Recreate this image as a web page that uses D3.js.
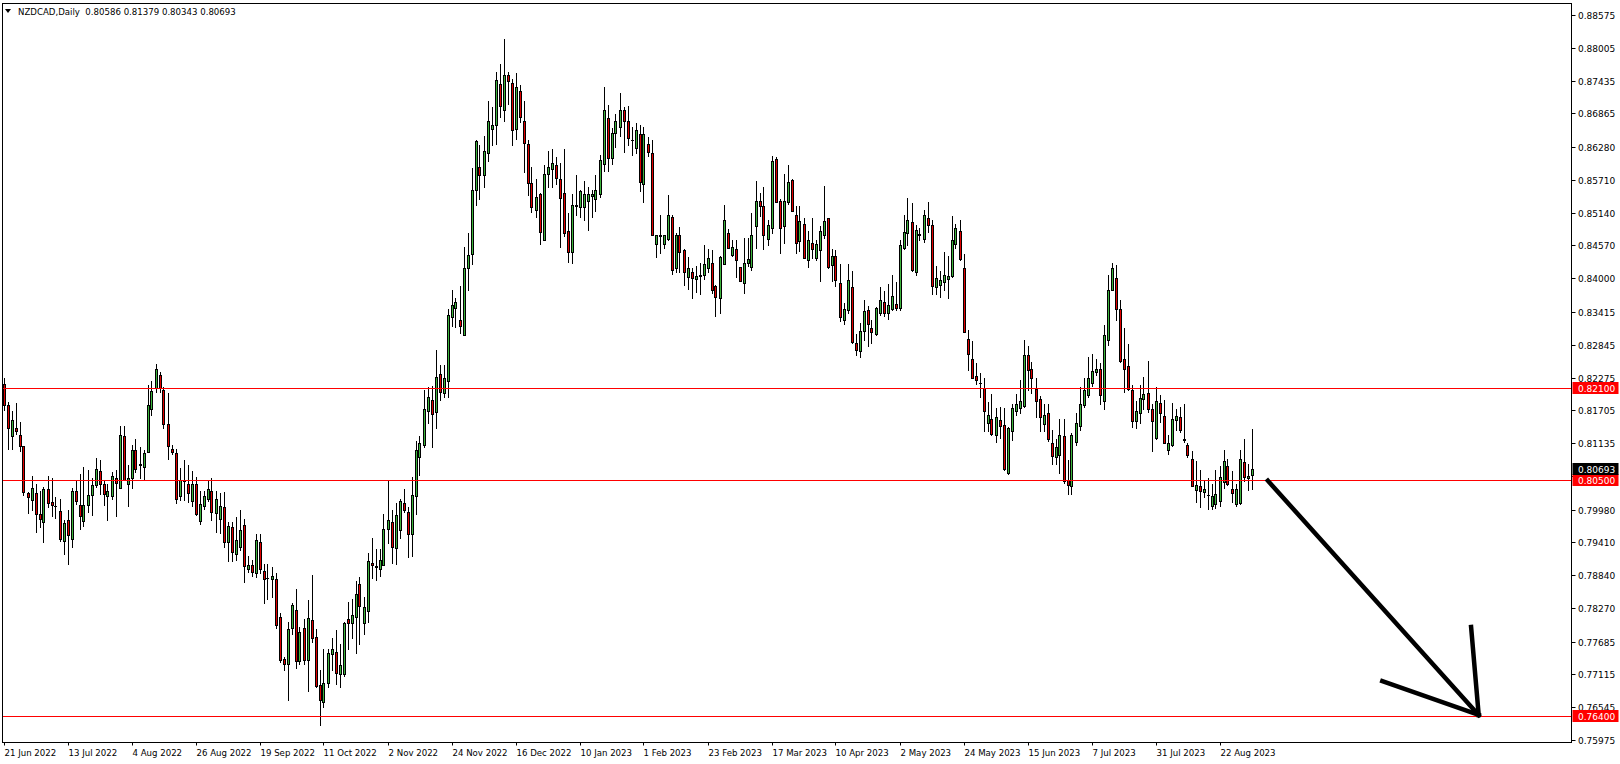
<!DOCTYPE html>
<html><head><meta charset="utf-8">
<script src="https://cdn.jsdelivr.net/npm/d3@7"></script>
<style>html,body{margin:0;padding:0;background:#fff;overflow:hidden}</style>
</head><body>
<svg id="c" width="1620" height="764"></svg>
<script>
const symbolTitle = "NZDCAD,Daily";
const lastOHLC = ["0.80586","0.81379","0.80343","0.80693"];

const opens = [.8217,.8179,.8126,.8139,.8127,.8108,.8026,.8015,.8027,.7990,.7976,.8033,.8011,.8005,.7996,.7943,.7980,.7946,.8031,.8006,
.7978,.8006,.8023,.8040,.8065,.8043,.8022,.8022,.8052,.8036,.8125,.8043,.8053,.8101,.8078,.8072,.8098,.8172,.8210,.8231,
.8205,.8146,.8104,.8097,.8022,.8049,.8043,.8013,.8043,.7978,.8004,.8017,.8031,.7992,.7982,.8003,.7942,.7967,.7921,.7933,
.7971,.7894,.7901,.7888,.7941,.7891,.7879,.7878,.7877,.7811,.7738,.7729,.7792,.7823,.7734,.7793,.7736,.7806,.7776,.7693,
.7664,.7697,.7747,.7750,.7713,.7713,.7807,.7800,.7812,.7869,.7800,.7822,.7905,.7898,.7895,.7902,.7965,.7976,.7932,.7962,
.8010,.7993,.7955,.8021,.8090,.8110,.8170,.8189,.8168,.8234,.8201,.8222,.8333,.8349,.8328,.8302,.8417,.8443,.8554,.8594,
.8580,.8618,.8659,.8667,.8737,.8693,.8753,.8740,.8660,.8726,.8673,.8634,.8565,.8519,.8546,.8467,.8582,.8590,.8596,.8573,
.8549,.8482,.8446,.8526,.8524,.8523,.8534,.8543,.8538,.8547,.8599,.8679,.8609,.8653,.8662,.8693,.8673,.8641,.8627,.8651,
.8564,.8633,.8617,.8459,.8475,.8459,.8469,.8507,.8417,.8475,.8449,.8403,.8410,.8398,.8404,.8405,.8417,.8426,.8386,.8366,
.8425,.8478,.8440,.8450,.8420,.8392,.8426,.8420,.8490,.8534,.8526,.8469,.8488,.8607,.8534,.8490,.8532,.8571,.8510,.8464,
.8494,.8431,.8461,.8436,.8449,.8475,.8504,.8423,.8439,.8391,.8327,.8345,.8384,.8288,.8274,.8309,.8345,.8314,.8303,.8339,
.8358,.8339,.8347,.8356,.8349,.8452,.8478,.8497,.8411,.8477,.8468,.8504,.8492,.8385,.8389,.8393,.8398,.8404,.8459,.8482,
.8417,.8295,.8259,.8230,.8218,.8210,.8149,.8155,.8127,.8153,.8145,.8062,.8135,.8169,.8174,.8178,.8266,.8242,.8207,.8191,
.8147,.8165,.8114,.8089,.8093,.8125,.8050,.8039,.8115,.8143,.8179,.8197,.8218,.8237,.8242,.8187,.8293,.8380,.8400,.8346,
.8260,.8247,.8206,.8152,.8166,.8191,.8201,.8173,.8122,.8184,.8160,.8102,.8111,.8154,.8158,.8121,.8111,.8086,.8032,.8039,
.8028,.8023,.8004,.8007,.8013,.8046,.8074,.8034,.8007,.8010,.8080,.8052,.80586];

const highs = [.8226,.8185,.8169,.8184,.8151,.8108,.8029,.8056,.8043,.8030,.8037,.8057,.8052,.8020,.8017,.7979,.7997,.8035,.8049,.8059,
.8072,.8066,.8052,.8088,.8084,.8050,.8042,.8063,.8066,.8143,.8143,.8075,.8110,.8120,.8107,.8101,.8215,.8222,.8251,.8237,
.8211,.8200,.8110,.8104,.8070,.8084,.8075,.8065,.8055,.8031,.8031,.8048,.8053,.8031,.8026,.8029,.7977,.7977,.7985,.7997,
.7982,.7917,.7910,.7955,.7955,.7904,.7904,.7899,.7887,.7819,.7742,.7803,.7835,.7860,.7794,.7808,.7840,.7884,.7790,.7720,
.7756,.7756,.7774,.7789,.7765,.7803,.7838,.7843,.7873,.7881,.7846,.7923,.7948,.7930,.7930,.7990,.8049,.7997,.8010,.8017,
.8034,.8003,.8055,.8118,.8125,.8206,.8211,.8212,.8276,.8250,.8249,.8347,.8379,.8365,.8386,.8454,.8478,.8592,.8641,.8631,
.8648,.8708,.8698,.8758,.8773,.8816,.8758,.8747,.8756,.8735,.8708,.8640,.8594,.8573,.8548,.8597,.8622,.8624,.8610,.8600,
.8624,.8513,.8547,.8579,.8553,.8569,.8558,.8554,.8579,.8614,.8733,.8701,.8661,.8686,.8722,.8698,.8700,.8663,.8669,.8667,
.8662,.8645,.8640,.8475,.8510,.8476,.8545,.8510,.8478,.8489,.8450,.8437,.8418,.8421,.8427,.8457,.8450,.8449,.8389,.8439,
.8528,.8485,.8466,.8467,.8420,.8470,.8470,.8513,.8569,.8549,.8558,.8502,.8613,.8610,.8537,.8581,.8597,.8573,.8525,.8525,
.8504,.8482,.8505,.8467,.8490,.8560,.8504,.8450,.8449,.8424,.8357,.8425,.8413,.8303,.8323,.8362,.8352,.8327,.8350,.8385,
.8378,.8390,.8405,.8394,.8466,.8510,.8539,.8530,.8492,.8487,.8518,.8533,.8501,.8421,.8413,.8446,.8438,.8508,.8494,.8502,
.8443,.8310,.8291,.8252,.8236,.8226,.8185,.8199,.8174,.8177,.8174,.8141,.8182,.8198,.8224,.8293,.8282,.8255,.8226,.8195,
.8182,.8182,.8136,.8120,.8156,.8156,.8084,.8131,.8165,.8211,.8227,.8263,.8268,.8260,.8252,.8318,.8405,.8426,.8423,.8362,
.8314,.8286,.8214,.8187,.8214,.8229,.8257,.8181,.8211,.8197,.8188,.8127,.8183,.8173,.8176,.8181,.8114,.8099,.8082,.8067,
.8049,.8052,.8043,.8067,.8073,.8101,.8085,.8065,.8043,.8102,.8121,.8078,.81379];

const lows = [.8171,.8104,.8103,.8130,.8100,.8023,.7992,.7998,.7959,.7968,.7941,.8002,.7986,.7983,.7943,.7921,.7904,.7933,.8007,.7965,
.7970,.7994,.7988,.8037,.8025,.8006,.7979,.8016,.7986,.8035,.8049,.8005,.8036,.8063,.8053,.8049,.8098,.8162,.8202,.8202,
.8140,.8086,.8095,.8009,.8014,.8014,.8011,.8005,.7988,.7973,.7999,.8013,.7979,.7959,.7958,.7933,.7908,.7908,.7910,.7927,
.7872,.7890,.7882,.7881,.7888,.7836,.7843,.7846,.7792,.7733,.7720,.7667,.7781,.7723,.7729,.7730,.7683,.7768,.7690,.7623,
.7655,.7690,.7719,.7695,.7690,.7709,.7756,.7774,.7749,.7765,.7781,.7803,.7879,.7876,.7882,.7901,.7940,.7905,.7904,.7948,
.7994,.7916,.7917,.7991,.8058,.8107,.8148,.8107,.8139,.8189,.8194,.8194,.8317,.8315,.8304,.8302,.8379,.8425,.8527,.8538,
.8559,.8604,.8631,.8633,.8681,.8674,.8703,.8631,.8642,.8671,.8585,.8544,.8515,.8507,.8460,.8466,.8559,.8558,.8563,.8454,
.8473,.8428,.8427,.8510,.8507,.8502,.8484,.8507,.8516,.8541,.8587,.8586,.8599,.8628,.8647,.8619,.8631,.8615,.8618,.8551,
.8533,.8613,.8475,.8437,.8444,.8452,.8467,.8407,.8410,.8410,.8389,.8382,.8366,.8376,.8372,.8399,.8411,.8374,.8335,.8339,
.8425,.8452,.8439,.8403,.8395,.8375,.8421,.8414,.8453,.8508,.8450,.8458,.8479,.8532,.8444,.8462,.8529,.8516,.8444,.8447,
.8436,.8420,.8436,.8431,.8395,.8470,.8418,.8396,.8386,.8326,.8321,.8339,.8287,.8267,.8263,.8293,.8283,.8288,.8301,.8336,
.8334,.8330,.8345,.8345,.8344,.8450,.8458,.8413,.8405,.8466,.8463,.8481,.8372,.8372,.8367,.8379,.8365,.8403,.8453,.8432,
.8307,.8240,.8226,.8216,.8194,.8135,.8135,.8127,.8116,.8122,.8066,.8060,.8119,.8162,.8165,.8176,.8205,.8200,.8158,.8135,
.8135,.8118,.8078,.8078,.8061,.8045,.8025,.8025,.8110,.8136,.8177,.8193,.8212,.8231,.8181,.8172,.8284,.8379,.8327,.8255,
.8202,.8205,.8141,.8140,.8148,.8172,.8168,.8100,.8121,.8150,.8113,.8094,.8109,.8136,.8133,.8115,.8089,.8039,.8011,.8002,
.8020,.7999,.7999,.8001,.8004,.8036,.8040,.8011,.8005,.8008,.8048,.8032,.80343];

const closes = [.8179,.8139,.8154,.8135,.8109,.8029,.8020,.8036,.7991,.7982,.8034,.8009,.8006,.8004,.7946,.7975,.7954,.8031,.8013,.7987,
.8006,.8023,.8041,.8069,.8043,.8025,.8031,.8056,.8045,.8128,.8050,.8053,.8102,.8069,.8076,.8097,.8179,.8204,.8242,.8210,
.8146,.8109,.8098,.8017,.8049,.8048,.8026,.8042,.7991,.8007,.8022,.8034,.7994,.8017,.8005,.7941,.7969,.7924,.7945,.7963,
.7900,.7902,.7890,.7945,.7894,.7878,.7879,.7882,.7798,.7737,.7729,.7790,.7832,.7735,.7786,.7737,.7810,.7774,.7692,.7667,
.7697,.7748,.7755,.7714,.7727,.7801,.7801,.7814,.7851,.7830,.7828,.7908,.7902,.7900,.7910,.7965,.7979,.7933,.7988,.8012,
.7998,.7956,.8023,.8102,.8113,.8172,.8193,.8164,.8229,.8203,.8226,.8336,.8353,.8359,.8317,.8418,.8441,.8554,.8638,.8580,
.8622,.8673,.8667,.8745,.8699,.8753,.8743,.8657,.8732,.8680,.8635,.8566,.8523,.8542,.8481,.8582,.8594,.8601,.8574,.8540,
.8479,.8445,.8528,.8527,.8551,.8546,.8546,.8547,.8553,.8606,.8693,.8609,.8653,.8674,.8692,.8673,.8644,.8640,.8658,.8567,
.8650,.8620,.8475,.8475,.8474,.8476,.8510,.8414,.8475,.8446,.8410,.8417,.8401,.8404,.8405,.8424,.8435,.8379,.8368,.8437,
.8501,.8452,.8454,.8431,.8396,.8426,.8434,.8475,.8534,.8525,.8476,.8492,.8604,.8533,.8488,.8534,.8567,.8516,.8461,.8500,
.8436,.8467,.8450,.8459,.8482,.8500,.8420,.8439,.8397,.8333,.8346,.8397,.8289,.8276,.8309,.8343,.8321,.8307,.8349,.8362,
.8339,.8354,.8369,.8349,.8458,.8480,.8501,.8414,.8484,.8476,.8510,.8492,.8387,.8400,.8397,.8405,.8404,.8466,.8488,.8433,
.8307,.8269,.8227,.8223,.8218,.8169,.8162,.8129,.8158,.8143,.8069,.8139,.8174,.8181,.8186,.8266,.8241,.8227,.8187,.8159,
.8163,.8121,.8091,.8106,.8127,.8048,.8041,.8127,.8149,.8182,.8205,.8227,.8238,.8243,.8197,.8301,.8380,.8417,.8346,.8257,
.8243,.8208,.8152,.8169,.8192,.8199,.8173,.8152,.8186,.8165,.8114,.8114,.8156,.8160,.8136,.8119,.8093,.8039,.8040,.8030,
.8033,.8023,.8021,.8025,.8054,.8082,.8043,.8027,.8034,.8085,.8054,.8056,.80693];

const dateLabels = ["21 Jun 2022","13 Jul 2022","4 Aug 2022","26 Aug 2022","19 Sep 2022","11 Oct 2022","2 Nov 2022",
"24 Nov 2022","16 Dec 2022","10 Jan 2023","1 Feb 2023","23 Feb 2023","17 Mar 2023","10 Apr 2023","2 May 2023",
"24 May 2023","15 Jun 2023","7 Jul 2023","31 Jul 2023","22 Aug 2023"];
const dateLabelBars = [0,16,32,48,64,80,96,112,128,144,160,176,192,208,224,240,256,272,288,304];

// right-axis ticks; the 0.80565 label is covered by the price boxes in the reference, so only its tick mark is drawn
const priceTicks = ["0.88575","0.88005","0.87435","0.86865","0.86280","0.85710","0.85140","0.84570","0.84000","0.83415",
"0.82845","0.82275","0.81705","0.81135","0.80565","0.79980","0.79410","0.78840","0.78270","0.77685","0.77115","0.76545","0.75975"];
const hiddenTickLabels = ["0.80565"];

const levels = [0.82100, 0.80500, 0.76400];
const levelLabels = ["0.82100","0.80500","0.76400"];

// arrow annotation in (bar index, price)
const arrowShaft = [[316.1, 0.8048], [368.8, 0.7641]];
const arrowHeadA = [[366.9, 0.7794], [368.8, 0.7641]];
const arrowHeadB = [[344.7, 0.7700], [368.8, 0.7641]];

const frame = {left: 2.5, right: 1571.5, top: 3.5, bottom: 742.5};
const FONT = "'DejaVu Sans', Tahoma, sans-serif";

const svg = d3.select("#c");
const x = d3.scaleLinear().domain([0, 312]).range([3.5, 1251.5]);
const y = d3.scaleLinear().domain([0.75975, 0.88575]).range([740, 15]);

const data = closes.map((c, i) => ({i, o: opens[i], h: highs[i], l: lows[i], c}));

const plot = svg.append("g");
const cx = i => Math.round(x(i)) + 0.5;

// wicks
plot.selectAll("line.wick").data(data).join("line")
  .attr("x1", d => cx(d.i)).attr("x2", d => cx(d.i))
  .attr("y1", d => Math.round(y(d.h))).attr("y2", d => Math.round(y(d.l)) + 1)
  .attr("stroke", "#000").attr("stroke-width", 1);

// bodies
data.forEach(d => {
  const top = Math.round(y(Math.max(d.o, d.c))) + 0.5;
  const bot = Math.round(y(Math.min(d.o, d.c))) + 0.5;
  if (bot - top < 1) {
    plot.append("line").attr("x1", cx(d.i) - 1.5).attr("x2", cx(d.i) + 1.5)
      .attr("y1", top).attr("y2", top).attr("stroke", "#000").attr("stroke-width", 1);
  } else {
    plot.append("rect").attr("x", cx(d.i) - 1).attr("width", 2)
      .attr("y", top).attr("height", bot - top)
      .attr("fill", d.c >= d.o ? "#3cb43c" : "#e00000")
      .attr("stroke", "#000").attr("stroke-width", 1);
  }
});

// horizontal levels
svg.selectAll("line.level").data(levels).join("line")
  .attr("x1", frame.left).attr("x2", frame.right)
  .attr("y1", d => Math.round(y(d)) + 0.5).attr("y2", d => Math.round(y(d)) + 0.5)
  .attr("stroke", "#ff0000").attr("stroke-width", 1);

// arrow
const line = d3.line().x(d => x(d[0])).y(d => y(d[1]));
[arrowShaft, arrowHeadA, arrowHeadB].forEach(seg => {
  svg.append("path").attr("d", line(seg)).attr("fill", "none")
    .attr("stroke", "#000").attr("stroke-width", 4.5).attr("stroke-linecap", "square");
});

// frame
svg.append("rect").attr("x", frame.left).attr("y", frame.top)
  .attr("width", frame.right - frame.left).attr("height", frame.bottom - frame.top)
  .attr("fill", "none").attr("stroke", "#000").attr("stroke-width", 1);

// right axis
const ax = svg.append("g");
priceTicks.forEach(t => {
  const yy = Math.round(y(+t)) + 0.5;
  ax.append("line").attr("x1", frame.right).attr("x2", frame.right + 4)
    .attr("y1", yy).attr("y2", yy).attr("stroke", "#000");
  if (!hiddenTickLabels.includes(t)) {
    ax.append("text").attr("x", 1578).attr("y", yy).attr("dy", "0.35em")
      .attr("font-family", FONT).attr("font-size", 9).attr("fill", "#000").text(t);
  }
});

// price labels (boxes)
function priceBox(val, txt, fill) {
  const yy = Math.round(y(val));
  ax.append("rect").attr("x", frame.right + 1).attr("y", yy - 6).attr("width", 46).attr("height", 12).attr("fill", fill);
  ax.append("text").attr("x", 1578).attr("y", yy + 0.5).attr("dy", "0.35em")
    .attr("font-family", FONT).attr("font-size", 9).attr("fill", "#fff").text(txt);
}
levels.forEach((v, k) => priceBox(v, levelLabels[k], "#ff0000"));
priceBox(+lastOHLC[3], lastOHLC[3], "#000");

// bottom axis
dateLabelBars.forEach((b, k) => {
  const xx = Math.round(x(b)) + 0.5;
  svg.append("line").attr("x1", xx).attr("x2", xx).attr("y1", frame.bottom).attr("y2", frame.bottom + 3).attr("stroke", "#000");
  svg.append("text").attr("x", xx).attr("y", 752.5).attr("dy", "0.35em")
    .attr("font-family", FONT).attr("font-size", 8.6).attr("fill", "#000").text(dateLabels[k]);
});

// title
svg.append("path").attr("d", "M5,9 L11,9 L8,13 Z").attr("fill", "#000");
svg.append("text").attr("x", 18).attr("y", 11.5).attr("dy", "0.35em")
  .attr("font-family", FONT).attr("font-size", 8.6).attr("fill", "#000")
  .attr("xml:space", "preserve").style("white-space", "pre")
  .text(symbolTitle + "  " + lastOHLC.join(" "));
</script>
</body></html>
